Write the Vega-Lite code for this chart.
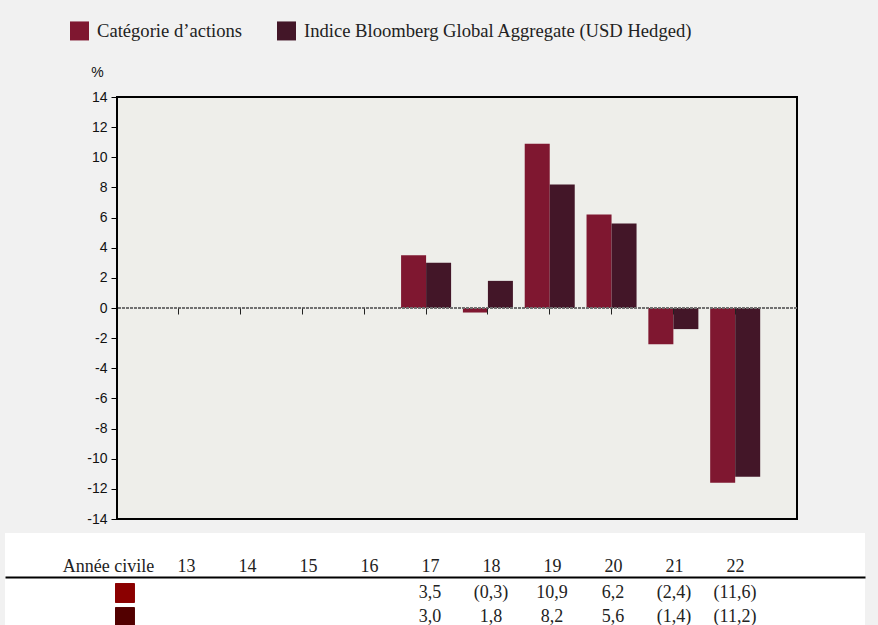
{
  "$schema": "https://vega.github.io/schema/vega-lite/v6.json",
  "background": "#f1f1f1",
  "padding": {"left": 5, "top": 21, "right": 13, "bottom": 0},
  "config": {
    "locale": {"number": {"decimal": ",", "thousands": " ", "grouping": [3], "currency": ["", " €"], "minus": "-"}},
    "view": {"stroke": null},
    "axis": {"grid": false}
  },
  "datasets": {
    "d": [
      {"year": "17", "series": "Catégorie d’actions", "value": 3.5},
      {"year": "18", "series": "Catégorie d’actions", "value": -0.3},
      {"year": "19", "series": "Catégorie d’actions", "value": 10.9},
      {"year": "20", "series": "Catégorie d’actions", "value": 6.2},
      {"year": "21", "series": "Catégorie d’actions", "value": -2.4},
      {"year": "22", "series": "Catégorie d’actions", "value": -11.6},
      {"year": "17", "series": "Indice Bloomberg Global Aggregate (USD Hedged)", "value": 3.0},
      {"year": "18", "series": "Indice Bloomberg Global Aggregate (USD Hedged)", "value": 1.8},
      {"year": "19", "series": "Indice Bloomberg Global Aggregate (USD Hedged)", "value": 8.2},
      {"year": "20", "series": "Indice Bloomberg Global Aggregate (USD Hedged)", "value": 5.6},
      {"year": "21", "series": "Indice Bloomberg Global Aggregate (USD Hedged)", "value": -1.4},
      {"year": "22", "series": "Indice Bloomberg Global Aggregate (USD Hedged)", "value": -11.2}
    ]
  },
  "resolve": {"scale": {"x": "independent", "y": "independent", "color": "independent"}},
  "spacing": 6,
  "vconcat": [
    {
      "spacing": 10,
      "hconcat": [
        {
          "width": 70,
          "height": 10,
          "view": {"stroke": null, "fill": null},
          "data": {"values": [{}]},
          "mark": {"type": "point", "opacity": 0},
          "encoding": {}
        },
        {
          "width": 680,
          "height": 422,
          "view": {"fill": "#eeeeea", "stroke": "#000000", "strokeWidth": 2},
          "data": {"name": "d"},
          "layer": [
            {
              "mark": {"type": "bar"},
              "encoding": {
                "x": {
                  "field": "year", "type": "nominal",
                  "scale": {"domain": ["13","14","15","16","17","18","19","20","21","22"], "paddingInner": 0, "paddingOuter": 0.5},
                  "axis": {"orient": "bottom", "offset": -211, "labels": false, "domain": false, "ticks": true, "tickSize": 6, "tickColor": "#222222", "tickWidth": 1, "title": null, "zindex": 1}
                },
                "xOffset": {
                  "field": "series",
                  "scale": {"domain": ["Catégorie d’actions", "Indice Bloomberg Global Aggregate (USD Hedged)"], "paddingInner": 0, "paddingOuter": 0.236}
                },
                "y": {
                  "field": "value", "type": "quantitative",
                  "scale": {"domain": [-14, 14], "nice": false, "zero": false},
                  "axis": {
                    "values": [-14,-12,-10,-8,-6,-4,-2,0,2,4,6,8,10,12,14],
                    "tickCount": 15,
                    "format": "d", "labelOverlap": false, "labelFlush": false,
                    "domain": false, "tickSize": 6, "tickColor": "#000000", "tickWidth": 1,
                    "labelFont": "Liberation Sans", "labelFontSize": 14, "labelColor": "#111111", "labelPadding": 4,
                    "title": "%", "titleAngle": 0, "titleX": -20, "titleY": -25, "titleAlign": "center", "titleBaseline": "middle",
                    "titleFont": "Liberation Sans", "titleFontSize": 14, "titleFontWeight": "normal", "titleColor": "#111111"
                  }
                },
                "color": {
                  "field": "series", "type": "nominal",
                  "scale": {"domain": ["Catégorie d’actions", "Indice Bloomberg Global Aggregate (USD Hedged)"], "range": ["#7f1730", "#431628"]},
                  "legend": {
                    "orient": "none", "legendX": 65, "legendY": -76, "direction": "horizontal", "title": null,
                    "padding": 0, "symbolType": "square", "symbolSize": 361, "symbolStrokeWidth": 0, "symbolOpacity": 1,
                    "labelFont": "Liberation Serif", "labelFontSize": 18.6, "labelColor": "#222222", "labelOffset": 8, "labelLimit": 500,
                    "columnPadding": 34
                  }
                }
              }
            },
            {
              "mark": {"type": "rule", "color": "#707070", "strokeWidth": 2, "strokeDash": [3, 1]},
              "encoding": {"y": {"datum": 0, "type": "quantitative"}}
            }
          ]
        }
      ]
    },
    {
      "width": 860,
      "height": 92,
      "view": {"fill": "#ffffff", "stroke": null},
      "data": {"name": "d"},
      "encoding": {
        "x": {
          "field": "year", "type": "nominal",
          "scale": {"type": "point", "domain": ["d1","lbl","13","14","15","16","17","18","19","20","21","22","d2","d3"], "padding": 0.549, "align": 0.88},
          "axis": {
            "orient": "top", "offset": -44, "title": null, "ticks": false, "tickSize": 0,
            "domainColor": "#000000", "domainWidth": 2,
            "labelFont": "Liberation Serif", "labelFontSize": 18, "labelColor": "#222222", "labelBaseline": "middle", "labelPadding": 11, "labelAngle": 0,
            "labelExpr": "datum.value === 'lbl' ? 'Année civile' : (indexof(['d1','d2','d3'], datum.value) >= 0 ? '' : datum.value)",
            "labelOffset": {"condition": {"test": "datum.value === 'lbl'", "value": -17}, "value": 0}
          }
        },
        "y": {
          "field": "series", "type": "nominal",
          "scale": {"type": "point", "domain": ["Catégorie d’actions", "Indice Bloomberg Global Aggregate (USD Hedged)"], "range": [60, 84], "padding": 0},
          "axis": null
        }
      },
      "layer": [
        {
          "mark": {"type": "text", "font": "Liberation Serif", "fontSize": 18, "color": "#222222"},
          "encoding": {"text": {"field": "value", "type": "quantitative", "format": "(.1f"}}
        },
        {
          "mark": {"type": "square", "size": 361, "opacity": 1, "filled": true},
          "encoding": {
            "x": {"datum": "lbl", "type": "nominal"},
            "color": {"field": "series", "type": "nominal", "scale": {"domain": ["Catégorie d’actions", "Indice Bloomberg Global Aggregate (USD Hedged)"], "range": ["#8b0000", "#520000"]}, "legend": null}
          }
        }
      ]
    }
  ]
}
